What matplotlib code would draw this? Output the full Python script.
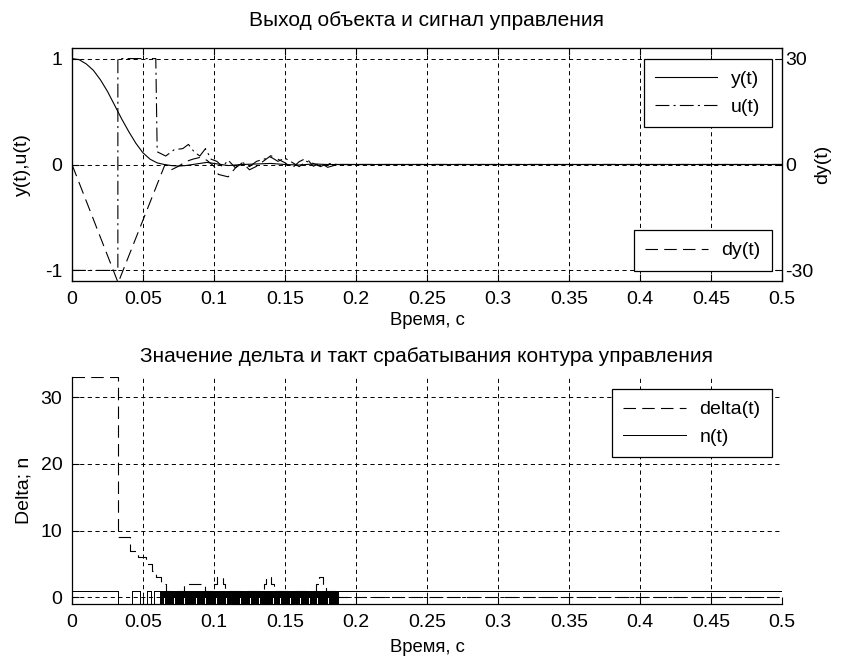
import matplotlib
matplotlib.use("Agg")
import matplotlib.pyplot as plt
import numpy as np

# --- data ---
y_t = [0, 0.005, 0.01, 0.015, 0.02, 0.025, 0.03, 0.035, 0.04, 0.045, 0.05, 0.055,
       0.06, 0.065, 0.07, 0.075, 0.08, 0.085, 0.09, 0.095, 0.1, 0.105, 0.11, 0.12,
       0.13, 0.14, 0.15, 0.16, 0.17, 0.18, 0.187, 0.5]
y_v = [1.0, 0.99, 0.95, 0.89, 0.80, 0.69, 0.56, 0.43, 0.31, 0.20, 0.11, 0.05,
       0.015, 0.0, -0.01, -0.015, -0.01, 0.0, 0.01, 0.02, 0.01, 0.0, -0.01, 0.0,
       0.005, 0.01, 0.0, -0.005, 0.005, 0.0, 0.0, 0.0]

u_t = [0, 0.0323, 0.0323, 0.059, 0.060, 0.066, 0.072, 0.078, 0.082, 0.086, 0.090,
       0.094, 0.098, 0.102, 0.106, 0.110, 0.115, 0.120, 0.125, 0.130, 0.135, 0.140,
       0.145, 0.150, 0.155, 0.160, 0.165, 0.170, 0.175, 0.180, 0.187, 0.5]
u_v = [-1, -1, 1, 1, 0.12, 0.08, 0.14, 0.15, 0.19, 0.12, 0.08,
       0.15, 0.05, 0.03, -0.02, 0.04, -0.03, 0.02, -0.02, 0.03, 0.05, 0.07,
       0.03, 0.06, 0.02, -0.02, 0.03, 0.01, -0.02, 0.01, 0.0, 0.0]

dy_t = [0, 0.0325, 0.0655, 0.070, 0.075, 0.080, 0.085, 0.090, 0.095, 0.100, 0.103,
        0.110, 0.115, 0.120, 0.125, 0.130, 0.135, 0.140, 0.145, 0.150, 0.155, 0.160,
        0.165, 0.170, 0.175, 0.180, 0.187, 0.5]
dy_v = [0, -33.5, 0, -1.5, -0.5, 0.8, 1.5, 2.0, 1.2, -0.5, -2.8,
        -3.5, -1.0, 0.5, -1.5, -0.5, 1.0, 2.5, 1.5, 0.5, -1.0, 0.8,
        1.8, -0.5, 0.5, -0.8, 0.0, 0.0]

delta_t = [0, 0.0323, 0.0405, 0.0465, 0.052, 0.056, 0.0595, 0.0625, 0.066, 0.0787,
           0.094, 0.100, 0.102, 0.106, 0.108, 0.135, 0.1365, 0.140, 0.142, 0.172,
           0.174, 0.177, 0.179, 0.187, 0.5]
delta_v = [33, 9, 7, 6, 5, 4, 3, 2, 1, 2,
           1, 2, 3, 2, 1, 2, 3, 2, 1, 2,
           3, 2, 1, 0, 0]

# n(t): run-lengths (samples of 0.5 ms) for the start, then a sample string
n_start_levels = [1, -1, 1, -1, 1, -1, 1]
n_start_runs = [65, 19, 12, 9, 6, 4, 8]
n_dense = ("+-+-+-+0+-+-+-+-+-+-+0+-+-+-+-+-+-+-+0+-+-+-+-+-+-+-+-+0+-"
           "+-+-+-+-+-+0+-+-+-+-+-+-+-+0+-+-+-+-+-+-+-+0+-+-+-+-+-+-+-"
           "+-+-+0+-+-+-+-+-+-+-+0+-+-+-+-+-+-+0+-+-+-+-+-+-+-+-+-+0+-"
           "+-+-+-+-+0+-+-+-+-+-+-+0+-+-+-+-+-+-+-+0+-+-+-+-+-+-+0+-+-"
           "+-+-+-+0+-+-+-+-+-+-+-+0+-+-+-+-+-+-+-")
n_end_time = 0.187

title_top = "Выход объекта и сигнал управления"
title_bot = "Значение дельта и такт срабатывания контура управления"
xlabel = "Время, с"
xticks = [0, 0.05, 0.1, 0.15, 0.2, 0.25, 0.3, 0.35, 0.4, 0.45, 0.5]
xticklabels = ["0", "0.05", "0.1", "0.15", "0.2", "0.25", "0.3", "0.35", "0.4", "0.45", "0.5"]

# --- build n(t) step series ---
dt = 0.0005
n_t, n_v = [], []
t0 = 0.0
for lev, run in zip(n_start_levels, n_start_runs):
    n_t.append(t0)
    n_v.append(lev)
    t0 += run * dt
step = (n_end_time - t0) / len(n_dense)
code = {"+": 1, "-": -1, "0": 0}
for i, ch in enumerate(n_dense):
    n_t.append(t0 + i * step)
    n_v.append(code[ch])
n_t += [n_end_time, 0.5]
n_v += [1, 1]

FS = 14
FS_TITLE = 15
plt.rcParams["font.family"] = ["Liberation Sans", "DejaVu Sans"]
plt.rcParams["font.size"] = FS
plt.rcParams["lines.scale_dashes"] = False

W, H = 843, 660
fig = plt.figure(figsize=(W / 100, H / 100), dpi=100)

def frac(x0, y0, x1, y1):
    return [x0 / W, 1 - y1 / H, (x1 - x0) / W, (y1 - y0) / H]

lw = 0.8
grid_kw = dict(color="k", linestyle=(0, (3, 2.5)), linewidth=0.7)
long_dash = (0, (9, 4.5))
dash_dot = (0, (10, 3, 1.5, 3))

leg_kw = dict(fancybox=False, edgecolor="k", framealpha=1, handlelength=3.2,
              handletextpad=0.7, borderpad=0.6, labelspacing=0.5,
              borderaxespad=0, fontsize=FS)

# top plot
ax1 = fig.add_axes(frac(72, 48, 782, 281))
ax1.plot(y_t, y_v, color="k", lw=lw, label="y(t)")
ax1.plot(u_t, u_v, color="k", lw=lw, linestyle=dash_dot, label="u(t)")
ax1.set_xlim(0, 0.5)
ax1.set_ylim(-1.1, 1.1)
ax1.set_yticks([-1, 0, 1])
ax1.set_yticklabels(["-1", "0", "1"])
ax1.set_xticks(xticks)
ax1.set_xticklabels(xticklabels)
ax1.grid(True, **grid_kw)
ax1.tick_params(direction="in", top=True, right=True, length=5, width=0.8, pad=7)
ax1.set_ylabel("y(t),u(t)", labelpad=10)
ax1.set_xlabel(xlabel, labelpad=3, fontsize=13.3)
ax1.set_title(title_top, pad=16, fontsize=FS_TITLE)

ax2 = ax1.twinx()
ax2.plot(dy_t, dy_v, color="k", lw=lw, linestyle=long_dash, label="dy(t)")
ax2.set_ylim(-33, 33)
ax2.set_yticks([-30, 0, 30])
ax2.set_yticklabels(["-30", "0", "30"])
ax2.tick_params(direction="in", length=5, width=0.8, pad=2)
ax2.set_ylabel("dy(t)", labelpad=1)
ax2.set_xlim(0, 0.5)

leg1 = ax1.legend(loc="upper right", bbox_to_anchor=(0.986, 0.953), **leg_kw)
leg1.get_frame().set_linewidth(0.9)
leg2 = ax2.legend(loc="lower right", bbox_to_anchor=(0.986, 0.043), **leg_kw)
leg2.get_frame().set_linewidth(0.9)

for sp in ax1.spines.values():
    sp.set_linewidth(0.9)

# bottom plot
ax3 = fig.add_axes(frac(72, 377, 782, 604))
ax3.plot(delta_t, delta_v, color="k", lw=lw, linestyle=long_dash,
         drawstyle="steps-post", label="delta(t)")
ax3.plot(n_t, n_v, color="k", lw=0.72, drawstyle="steps-post", label="n(t)",
         antialiased=False)
ax3.set_xlim(0, 0.5)
ax3.set_ylim(-1, 33)
ax3.set_yticks([0, 10, 20, 30])
ax3.set_xticks(xticks)
ax3.set_xticklabels(xticklabels)
ax3.grid(True, **grid_kw)
ax3.spines["top"].set_visible(False)
ax3.spines["right"].set_visible(False)
ax3.spines["left"].set_linewidth(0.9)
ax3.spines["bottom"].set_linewidth(0.9)
ax3.tick_params(direction="in", length=5, width=0.8, pad=7)
ax3.set_ylabel("Delta; n", labelpad=6)
ax3.set_xlabel(xlabel, labelpad=6, fontsize=13.3)
ax3.set_title(title_bot, pad=11, fontsize=FS_TITLE)
leg3 = ax3.legend(loc="upper right", bbox_to_anchor=(0.986, 0.947), **leg_kw)
leg3.get_frame().set_linewidth(0.9)

fig.savefig("out.png", dpi=100)
